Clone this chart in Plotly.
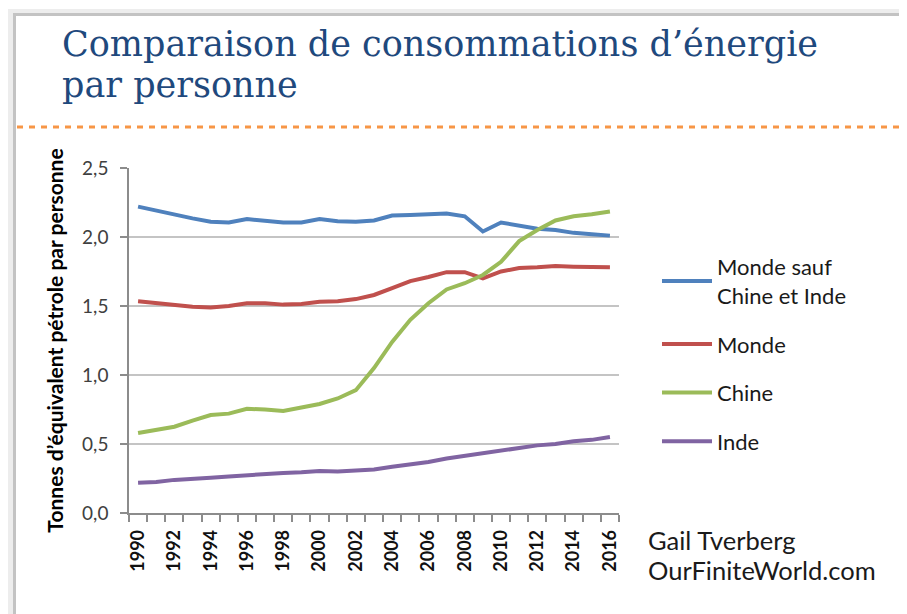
import plotly.graph_objects as go

# ---------------- data ----------------
years = list(range(1990, 2017))
tick_years = list(range(1990, 2017, 2))
tick_labels = [str(y) for y in tick_years]

monde_sauf = [2.22, 2.19, 2.165, 2.135, 2.11, 2.105, 2.13, 2.12, 2.105, 2.105,
              2.13, 2.115, 2.11, 2.12, 2.155, 2.16, 2.165, 2.17, 2.15, 2.04,
              2.105, 2.08, 2.06, 2.05, 2.03, 2.02, 2.01]
monde = [1.535, 1.52, 1.51, 1.495, 1.49, 1.50, 1.52, 1.52, 1.51, 1.515,
         1.53, 1.535, 1.55, 1.58, 1.63, 1.68, 1.71, 1.745, 1.745, 1.70,
         1.75, 1.775, 1.78, 1.79, 1.785, 1.78, 1.78]
chine = [0.58, 0.60, 0.625, 0.67, 0.71, 0.72, 0.755, 0.75, 0.74, 0.765,
         0.79, 0.83, 0.89, 1.05, 1.24, 1.40, 1.52, 1.62, 1.665, 1.725,
         1.82, 1.97, 2.05, 2.12, 2.15, 2.165, 2.185]
inde = [0.22, 0.225, 0.24, 0.245, 0.255, 0.265, 0.275, 0.28, 0.29, 0.295,
        0.305, 0.30, 0.31, 0.315, 0.335, 0.35, 0.37, 0.395, 0.415, 0.435,
        0.45, 0.47, 0.49, 0.50, 0.52, 0.53, 0.55]

series_names = ["Monde sauf<br>Chine et Inde", "Monde", "Chine", "Inde"]
series_values = [monde_sauf, monde, chine, inde]
series_colors = ["#4F81BD", "#C0504D", "#9BBB59", "#8064A2"]

title_line1 = "Comparaison de consommations d’énergie"
title_line2 = "par personne"
y_title = "Tonnes d’équivalent pétrole par personne"
credit1 = "Gail Tverberg"
credit2 = "OurFiniteWorld.com"

# ---------------- layout geometry (screen pixels) ----------------
OFF = 8                    # page body margin
SW, SH = 907, 614          # window size
W, H = SW - OFF, SH - OFF  # figure size
L, R, T, B = 129, 619, 168, 513   # plot area in screen pixels


def px(x):
    return (x - L) / (R - L)


def py(y):
    return (B - y) / (B - T)


fig = go.Figure()
for name, vals, col in zip(series_names, series_values, series_colors):
    fig.add_trace(go.Scatter(
        x=years, y=vals, mode="lines", name=name,
        line=dict(color=col, width=4, shape="linear"),
        legendgroup=name,
    ))

fig.update_layout(
    width=W, height=H,
    margin=dict(l=L - OFF, r=SW - R, t=T - OFF, b=SH - B, pad=0),
    paper_bgcolor="white",
    plot_bgcolor="white",
    separators=", ",
    showlegend=True,
    legend=dict(
        x=px(657), y=py(246), xanchor="left", yanchor="top",
        font=dict(family="Lato", size=22, color="#1a1a1a"),
        tracegroupgap=17,
        itemwidth=50,
        bgcolor="rgba(0,0,0,0)",
        traceorder="grouped",
    ),
    xaxis=dict(
        range=[1989.5, 2016.5],
        tickmode="array", tickvals=tick_years, ticktext=tick_labels,
        tickangle=-90,
        ticks="outside", ticklen=8, tickcolor="rgba(0,0,0,0)",
        tickfont=dict(family="Lato", size=18, color="#111111", weight="bold"),
        showgrid=False, zeroline=False,
        showline=True, linecolor="#8C8C8C", linewidth=1.5,
        minor=dict(ticks="outside", tick0=1989.5, dtick=1, ticklen=7,
                   tickcolor="#8C8C8C", tickwidth=1.5, showgrid=False),
        fixedrange=True,
    ),
    yaxis=dict(
        range=[0, 2.5], dtick=0.5, tick0=0, tickformat=".1f",
        ticks="outside", ticklen=7, tickcolor="#8C8C8C", tickwidth=1.5,
        tickfont=dict(family="Lato", size=19, color="#404040"),
        ticklabelstandoff=8,
        showgrid=True, gridcolor="#C4C4C4", gridwidth=1.5,
        zeroline=False,
        showline=True, linecolor="#8C8C8C", linewidth=1.5,
        title=dict(text=y_title, standoff=13,
                   font=dict(family="Lato", size=21, color="#000000", weight="bold")),
        fixedrange=True,
    ),
)

# ---------------- frame / decoration ----------------
shapes = [
    # light gray outer band (top and left)
    dict(type="rect", xref="paper", yref="paper", layer="below",
         x0=px(6), x1=px(SW + 5), y0=py(9), y1=py(14),
         fillcolor="#EDEDED", line=dict(width=0)),
    dict(type="rect", xref="paper", yref="paper", layer="below",
         x0=px(6), x1=px(14), y0=py(9), y1=py(SH + 5),
         fillcolor="#EDEDED", line=dict(width=0)),
    # darker border
    dict(type="rect", xref="paper", yref="paper", layer="below",
         x0=px(13), x1=px(SW + 5), y0=py(13), y1=py(16),
         fillcolor="#C3C3C3", line=dict(width=0)),
    dict(type="rect", xref="paper", yref="paper", layer="below",
         x0=px(13), x1=px(16), y0=py(13), y1=py(SH + 5),
         fillcolor="#C3C3C3", line=dict(width=0)),
    # orange dotted separator
    dict(type="line", xref="paper", yref="paper",
         x0=px(17), x1=px(SW + 5), y0=py(127), y1=py(127),
         line=dict(color="#F79646", width=3, dash="6px,6px")),
]
fig.update_layout(shapes=shapes)

ann = []
title_font = dict(family="DejaVu Serif", size=35, color="#1F497D")
ann.append(dict(xref="paper", yref="paper", x=px(60), y=py(44), text=title_line1,
                showarrow=False, xanchor="left", yanchor="middle", font=title_font))
ann.append(dict(xref="paper", yref="paper", x=px(60), y=py(85), text=title_line2,
                showarrow=False, xanchor="left", yanchor="middle", font=title_font))
credit_font = dict(family="Lato", size=25.5, color="#1a1a1a")
ann.append(dict(xref="paper", yref="paper", x=px(646), y=py(540), text=credit1,
                showarrow=False, xanchor="left", yanchor="middle", font=credit_font))
ann.append(dict(xref="paper", yref="paper", x=px(646), y=py(570), text=credit2,
                showarrow=False, xanchor="left", yanchor="middle", font=credit_font))
fig.update_layout(annotations=ann)

fig.write_html("out.html")
